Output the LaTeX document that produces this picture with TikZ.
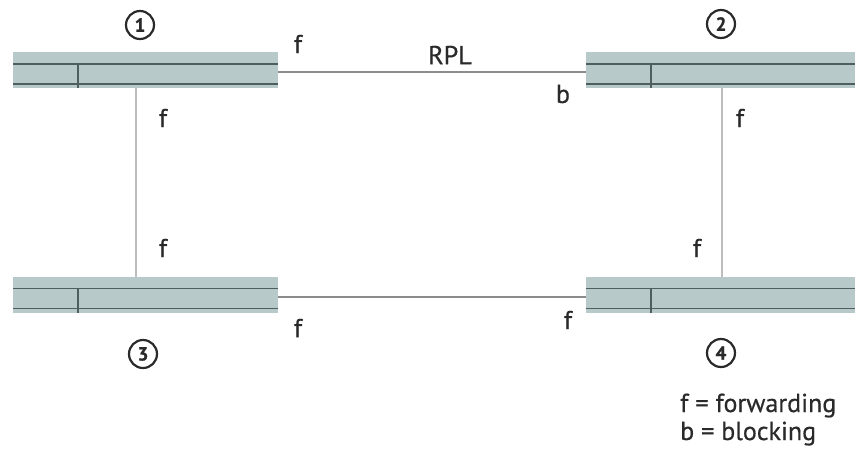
\documentclass[tikz,border=0pt]{standalone}
\usepackage{fontspec}
\setmainfont{PT Sans}
\newfontfamily\lblfont{PT Sans}[FakeBold=0.5]
\newfontfamily\numfont{PT Sans Bold}[FakeBold=0.8]
\usetikzlibrary{positioning}
\definecolor{swfill}{HTML}{B7C9C9}
\definecolor{swline}{HTML}{4F5F5F}
\definecolor{linkgray}{HTML}{8C8C8C}
\definecolor{vlinkgray}{HTML}{BDBDBD}
\definecolor{txtgray}{HTML}{2A2A2A}

\tikzset{
  switch/.style={fill=swfill, minimum height=36pt, inner sep=0pt, outer sep=0pt},
  portlbl/.style={font=\lblfont\fontsize{26}{28}\selectfont, text=txtgray, inner sep=0pt},
  idlbl/.style={draw=txtgray, circle, line width=2.2pt, minimum size=28pt, inner sep=0pt,
                text=txtgray, font=\numfont\fontsize{19}{19}\selectfont},
  hlink/.style={draw=linkgray, line width=1.4pt},
  vlink/.style={draw=vlinkgray, line width=2pt},
  inner/.style={draw=swline, line width=1.2pt},
}

% rails and divider inside one switch
\newcommand{\swrails}[1]{%
  \draw[inner] ([yshift=-12pt]#1.north west) -- ([yshift=-12pt]#1.north east);
  \draw[inner] ([yshift=4pt]#1.south west) -- ([yshift=4pt]#1.south east);
  \draw[inner] ([xshift=65pt,yshift=-12pt]#1.north west) -- ([xshift=65pt]#1.south west);
}

\begin{document}
\begin{tikzpicture}[x=1pt, y=-1pt]
  \useasboundingbox (0,0) rectangle (855,448);

  % switches
  \node[switch, minimum width=265pt] (sw1) at (145.5,70) {};
  \node[switch, minimum width=269pt] (sw2) at (720.5,70) {};
  \node[switch, minimum width=265pt] (sw3) at (145.5,294.5) {};
  \node[switch, minimum width=269pt] (sw4) at (720.5,294.5) {};
  \swrails{sw1}
  \swrails{sw2}
  \swrails{sw3}
  \swrails{sw4}

  % links
  \draw[hlink] ([yshift=-2pt]sw1.east) -- ([yshift=-2pt]sw2.west);
  \draw[hlink] ([yshift=-2.5pt]sw3.east) -- ([yshift=-2.5pt]sw4.west);
  \draw[vlink] ([xshift=-9.5pt]sw1.south) -- ([xshift=-9.5pt]sw3.north);
  \draw[vlink] ([xshift=1.5pt]sw2.south) -- ([xshift=1.5pt]sw4.north);

  % switch numbers
  \node[idlbl] (n1) at (140,25) {1};
  \node[idlbl] (n2) at (721,24) {2};
  \node[idlbl] (n3) at (143,354) {3};
  \node[idlbl] (n4) at (721,353) {4};

  % port states
  \node[portlbl] (p1e) at (298,44) {f};
  \node[portlbl] (rpl) at (450,55) {RPL};
  \node[portlbl] (p2w) at (563,94) {b};
  \node[portlbl] (p1s) at (163,118) {f};
  \node[portlbl] (p2s) at (740,118) {f};
  \node[portlbl] (p3n) at (163,248) {f};
  \node[portlbl] (p4n) at (697,248) {f};
  \node[portlbl] (p3e) at (298,328) {f};
  \node[portlbl] (p4w) at (568,320) {f};

  % legend
  \node[portlbl, anchor=base west] (key1) at (680,412) {f = forwarding};
  \node[portlbl, anchor=base west] (key2) at (680,440) {b = blocking};
\end{tikzpicture}
\end{document}
